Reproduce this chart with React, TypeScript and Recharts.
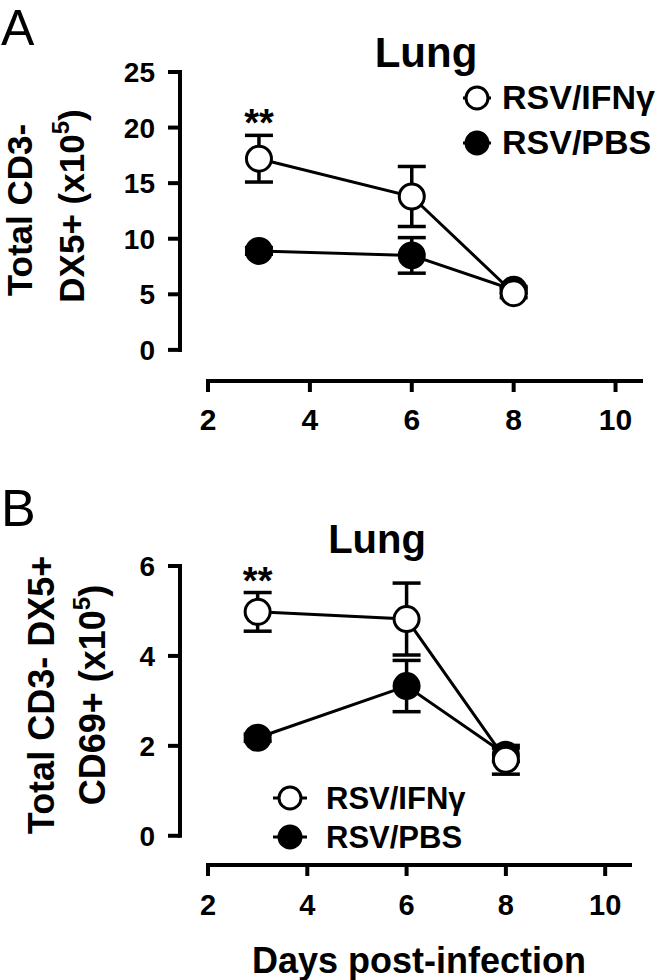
import {
  LineChart,
  Line,
  XAxis,
  YAxis,
  ErrorBar,
  ReferenceLine,
  ReferenceDot,
} from "recharts";

const FONT = "'Liberation Sans', Arial, Helvetica, sans-serif";

// days post-infection
const days = [3, 6, 8];
const xTicks = [2, 4, 6, 8, 10];

// panel A: total CD3- DX5+ (x10^5)
const ifnA = [17.2, 13.8, 5.1];
const ifnErrA = [2.1, 2.7, 0.4];
const pbsA = [8.9, 8.5, 5.4];
const pbsErrA = [0.3, 1.6, 0.3];
const yTicksA = [0, 5, 10, 15, 20, 25];

// panel B: total CD3- DX5+ CD69+ (x10^5)
const ifnB = [4.98, 4.82, 1.69];
const ifnErrB = [0.43, 0.8, 0.32];
const pbsB = [2.18, 3.33, 1.8];
const pbsErrB = [0.08, 0.57, 0.15];
const yTicksB = [0, 2, 4, 6];

const SIG = "**";
const seriesNames = ["RSV/IFNγ", "RSV/PBS"];

type Row = { day: number; ifn: number; ifnErr: number; pbs: number; pbsErr: number };

const rows = (ifn: number[], ifnErr: number[], pbs: number[], pbsErr: number[]): Row[] =>
  days.map((d, i) => ({ day: d, ifn: ifn[i], ifnErr: ifnErr[i], pbs: pbs[i], pbsErr: pbsErr[i] }));

const dataA = rows(ifnA, ifnErrA, pbsA, pbsErrA);
const dataB = rows(ifnB, ifnErrB, pbsB, pbsErrB);

const sigLabel = (props: any) => {
  const vb = props.viewBox;
  const cx = vb.x + vb.width / 2;
  const cy = vb.y + vb.height / 2;
  return (
    <text x={cx} y={cy + 1} textAnchor="middle" fontSize={38} fontWeight={700} fontFamily={FONT} fill="#000">
      {SIG}
    </text>
  );
};

function Panel({
  data,
  xDomain,
  yDomain,
  yTicks,
  margin,
  xTickFont,
  xTickMargin,
}: {
  data: Row[];
  xDomain: [number, number];
  yDomain: [number, number];
  yTicks: number[];
  margin: { top: number; right: number; bottom: number; left: number };
  xTickFont: number;
  xTickMargin: number;
}) {
  const yMax = yTicks[yTicks.length - 1];
  return (
    <LineChart width={666} height={490} data={data} margin={margin}>
      <XAxis
        type="number"
        dataKey="day"
        domain={xDomain}
        ticks={xTicks}
        interval={0}
        allowDataOverflow
        axisLine={false}
        tickLine={{ stroke: "#000", strokeWidth: 4 }}
        tickSize={11}
        tickMargin={xTickMargin}
        tick={{ fill: "#000", fontSize: xTickFont, fontWeight: 700, fontFamily: FONT }}
        height={60}
      />
      <YAxis
        type="number"
        domain={yDomain}
        ticks={yTicks}
        interval={0}
        allowDataOverflow
        axisLine={false}
        tickLine={{ stroke: "#000", strokeWidth: 4 }}
        tickSize={12}
        tickMargin={13}
        tick={{ fill: "#000", fontSize: 28, fontWeight: 700, fontFamily: FONT }}
        width={60}
      />
      <ReferenceLine
        segment={[
          { x: xDomain[0], y: 0 },
          { x: xDomain[0], y: yMax },
        ]}
        stroke="#000"
        strokeWidth={4}
        strokeLinecap="square"
        ifOverflow="visible"
      />
      <ReferenceLine
        segment={[
          { x: xTicks[0], y: yDomain[0] },
          { x: xDomain[1], y: yDomain[0] },
        ]}
        stroke="#000"
        strokeWidth={4}
        strokeLinecap="square"
        ifOverflow="visible"
      />
      <Line
        dataKey="pbs"
        name={seriesNames[1]}
        type="linear"
        stroke="#000"
        strokeWidth={3}
        dot={{ r: 12.5, fill: "#000", stroke: "#000", strokeWidth: 3 }}
        activeDot={false}
        isAnimationActive={false}
      >
        <ErrorBar dataKey="pbsErr" direction="y" width={14} stroke="#000" strokeWidth={3.5} isAnimationActive={false} />
      </Line>
      <Line
        dataKey="ifn"
        name={seriesNames[0]}
        type="linear"
        stroke="#000"
        strokeWidth={3}
        dot={{ r: 12.5, fill: "#fff", stroke: "#000", strokeWidth: 3 }}
        activeDot={false}
        isAnimationActive={false}
      >
        <ErrorBar dataKey="ifnErr" direction="y" width={14} stroke="#000" strokeWidth={3.5} isAnimationActive={false} />
      </Line>
      <ReferenceDot
        x={data[0].day}
        y={data[0].ifn + data[0].ifnErr}
        r={0}
        ifOverflow="visible"
        label={sigLabel}
      />
    </LineChart>
  );
}

function LegendMarks({ cx, cy, gap, half, textX, fontSize }: { cx: number; cy: number; gap: number; half: number; textX: number; fontSize: number }) {
  return (
    <g>
      {seriesNames.map((name, i) => {
        const y = cy + i * gap;
        return (
          <g key={name}>
            <line x1={cx - half} x2={cx + half} y1={y} y2={y} stroke="#000" strokeWidth={3} />
            <circle cx={cx} cy={y} r={11} fill={i === 0 ? "#fff" : "#000"} stroke="#000" strokeWidth={3} />
            <text x={textX} y={y + 11} fontSize={fontSize} fontWeight={700} fontFamily={FONT} fill="#000">
              {name}
            </text>
          </g>
        );
      })}
    </g>
  );
}

export default function App() {
  return (
    <div style={{ position: "absolute", left: 0, top: 0, width: 666, height: 980, background: "#fff" }}>
      <div style={{ position: "absolute", left: 0, top: 0 }}>
        <Panel
          data={dataA}
          xDomain={[1.45, 10.5]}
          yDomain={[-2.8, 25]}
          yTicks={yTicksA}
          margin={{ top: 72, right: 25, bottom: 49, left: 120 }}
          xTickFont={30}
          xTickMargin={17}
        />
      </div>
      <div style={{ position: "absolute", left: 0, top: 490 }}>
        <Panel
          data={dataB}
          xDomain={[1.436, 10.5]}
          yDomain={[-0.65, 6]}
          yTicks={yTicksB}
          margin={{ top: 76, right: 36, bottom: 55, left: 120 }}
          xTickFont={29}
          xTickMargin={18}
        />
      </div>
      <svg
        width={666}
        height={980}
        style={{ position: "absolute", left: 0, top: 0, pointerEvents: "none" }}
      >
        <text x={1} y={45} fontSize={50} fontFamily={FONT} fill="#000">A</text>
        <text x={1} y={526} fontSize={52} fontFamily={FONT} fill="#000">B</text>

        <text x={426} y={67} textAnchor="middle" fontSize={42} fontWeight={700} fontFamily={FONT} fill="#000">Lung</text>
        <text x={377} y={553} textAnchor="middle" fontSize={40} fontWeight={700} fontFamily={FONT} fill="#000">Lung</text>

        <g fontWeight={700} fontFamily={FONT} fill="#000" fontSize={35} textAnchor="middle">
          <text transform="translate(32,210) rotate(-90)">Total CD3-</text>
          <text transform="translate(84,206) rotate(-90)">
            DX5+ (x10<tspan fontSize={24} dy={-15}>5</tspan><tspan dy={15}>)</tspan>
          </text>
          <text transform="translate(54,695) rotate(-90)" fontSize={36}>Total CD3- DX5+</text>
          <text transform="translate(105,695) rotate(-90)" fontSize={36}>
            CD69+ (x10<tspan fontSize={24} dy={-15}>5</tspan><tspan dy={15}>)</tspan>
          </text>
        </g>

        <text x={419} y={973} textAnchor="middle" fontSize={36} fontWeight={700} fontFamily={FONT} fill="#000">
          Days post-infection
        </text>

        <LegendMarks cx={477} cy={98} gap={45} half={14} textX={502} fontSize={34} />
        <LegendMarks cx={290} cy={798} gap={39} half={17} textX={326} fontSize={31} />
      </svg>
    </div>
  );
}
